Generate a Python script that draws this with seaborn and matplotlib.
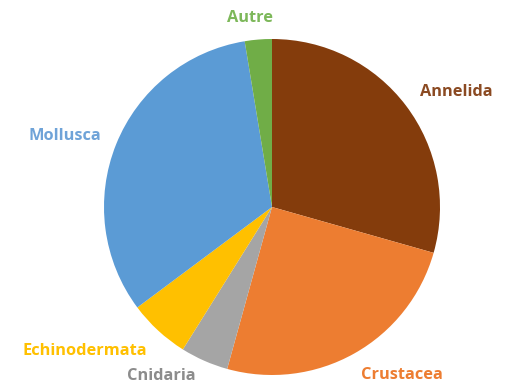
import matplotlib
matplotlib.use("Agg")
import matplotlib.pyplot as plt
import seaborn as sns

# Share of each phylum (percent)
phyla = ["Annelida", "Crustacea", "Cnidaria", "Echinodermata", "Mollusca", "Autre"]
shares = [29.4, 24.9, 4.6, 5.9, 32.6, 2.6]
colors = ["#843C0C", "#ED7D31", "#A5A5A5", "#FFC000", "#5B9BD5", "#70AD47"]
label_colors = ["#8B4A22", "#ED7D31", "#8C8C8C", "#FFC000", "#6FA3D8", "#7DB85A"]

sns.set_style("white")
plt.rcParams["font.family"] = ["Open Sans", "DejaVu Sans"]

W, H = 510, 385
fig = plt.figure(figsize=(W / 100, H / 100), dpi=100)
ax = fig.add_axes([0, 0, 1, 1])

cx, cy, r = 272, H - 207, 168

ax.pie(shares, colors=colors, startangle=90, counterclock=False,
       center=(cx, cy), radius=r, frame=True,
       wedgeprops=dict(linewidth=0))
ax.set_xlim(0, W)
ax.set_ylim(0, H)
ax.set_aspect("equal")
ax.axis("off")

# label anchor points (pixels from top-left)
label_pos = {
    "Annelida": (456, 92),
    "Crustacea": (402, 375),
    "Cnidaria": (161, 376),
    "Echinodermata": (85, 351),
    "Mollusca": (65, 136),
    "Autre": (250, 18),
}
for name, col in zip(phyla, label_colors):
    x, y = label_pos[name]
    ax.text(x, H - y, name, color=col, fontsize=11.8, fontweight="bold",
            ha="center", va="center")

fig.savefig("out.png", dpi=100)
